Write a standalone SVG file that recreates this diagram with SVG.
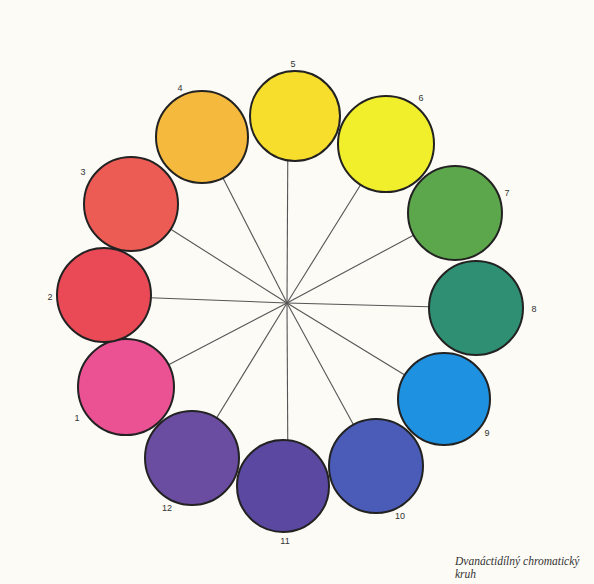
<svg xmlns="http://www.w3.org/2000/svg" width="594" height="584" viewBox="0 0 594 584">
<style>
.bg{fill:#fcfbf6}
.c{stroke:#222;stroke-width:2}
.ln{stroke:#555;stroke-width:1.1;fill:none}
.lb{font-family:"Liberation Sans",Arial,sans-serif;font-size:9px;fill:#333;text-anchor:middle}
.cap{font-family:"Liberation Serif","Times New Roman",serif;font-style:italic;font-size:11.5px;fill:#333}
</style>
<rect class="bg" x="0" y="0" width="594" height="584"/>
<g id="connectors">
<line class="ln" x1="287" y1="303" x2="126" y2="387"/>
<line class="ln" x1="287" y1="303" x2="104" y2="296"/>
<line class="ln" x1="287" y1="303" x2="131" y2="204"/>
<line class="ln" x1="287" y1="303" x2="202" y2="137"/>
<line class="ln" x1="287" y1="303" x2="288" y2="116"/>
<line class="ln" x1="287" y1="303" x2="386" y2="144"/>
<line class="ln" x1="287" y1="303" x2="455" y2="213"/>
<line class="ln" x1="287" y1="303" x2="476" y2="308"/>
<line class="ln" x1="287" y1="303" x2="444" y2="399"/>
<line class="ln" x1="287" y1="303" x2="376" y2="466"/>
<line class="ln" x1="287" y1="303" x2="288" y2="486"/>
<line class="ln" x1="287" y1="303" x2="192" y2="458"/>
</g>
<g id="n1"><circle class="c" cx="126" cy="387" r="48" fill="#ea5293"/><text class="lb" x="77" y="421">1</text></g>
<g id="n2"><circle class="c" cx="104" cy="295" r="47" fill="#e94a56"/><text class="lb" x="50" y="300">2</text></g>
<g id="n3"><circle class="c" cx="131" cy="204" r="47" fill="#ed5b55"/><text class="lb" x="83" y="175">3</text></g>
<g id="n4"><circle class="c" cx="202" cy="137" r="46" fill="#f5b93d"/><text class="lb" x="180" y="91">4</text></g>
<g id="n5"><circle class="c" cx="295" cy="116" r="45" fill="#f8de2c"/><text class="lb" x="293" y="67">5</text></g>
<g id="n6"><circle class="c" cx="386" cy="144" r="48" fill="#f1ef2c"/><text class="lb" x="421" y="101">6</text></g>
<g id="n7"><circle class="c" cx="455" cy="213" r="47" fill="#5ca64b"/><text class="lb" x="507" y="196">7</text></g>
<g id="n8"><circle class="c" cx="476" cy="308" r="47" fill="#2f8f72"/><text class="lb" x="534" y="312">8</text></g>
<g id="n9"><circle class="c" cx="444" cy="399" r="46" fill="#1e91e0"/><text class="lb" x="487" y="436">9</text></g>
<g id="n10"><circle class="c" cx="376" cy="466" r="47" fill="#4b5bb8"/><text class="lb" x="400" y="519">10</text></g>
<g id="n11"><circle class="c" cx="283" cy="486" r="46" fill="#5b49a1"/><text class="lb" x="285" y="544">11</text></g>
<g id="n12"><circle class="c" cx="192" cy="458" r="47" fill="#6a4ca1"/><text class="lb" x="167" y="511">12</text></g>
<g id="caption">
<text class="cap" x="455" y="565">Dvanáctidílný chromatický</text>
<text class="cap" x="455" y="578">kruh</text>
</g>
</svg>
